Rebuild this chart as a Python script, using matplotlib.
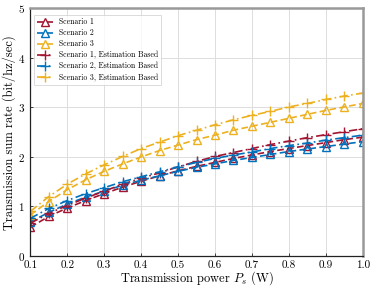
import matplotlib
matplotlib.use("Agg")
import matplotlib.pyplot as plt
import numpy as np

plt.rcParams['font.family'] = 'serif'
plt.rcParams['font.serif'] = ['cmr10', 'DejaVu Serif']
plt.rcParams['mathtext.fontset'] = 'cm'
plt.rcParams['axes.formatter.use_mathtext'] = True

power = [0.1, 0.15, 0.2, 0.25, 0.3, 0.35, 0.4, 0.45, 0.5, 0.55,
         0.6, 0.65, 0.7, 0.75, 0.8, 0.85, 0.9, 0.95, 1.0]

s1 = [0.58, 0.80, 0.97, 1.12, 1.26, 1.39, 1.51, 1.62, 1.72, 1.81,
      1.89, 1.97, 2.04, 2.11, 2.17, 2.23, 2.29, 2.35, 2.40]
s2 = [0.69, 0.88, 1.05, 1.19, 1.31, 1.43, 1.53, 1.62, 1.71, 1.79,
      1.86, 1.93, 1.99, 2.05, 2.11, 2.16, 2.21, 2.26, 2.31]
s3 = [0.83, 1.10, 1.34, 1.54, 1.71, 1.86, 2.00, 2.13, 2.24, 2.35,
      2.44, 2.54, 2.62, 2.70, 2.78, 2.86, 2.94, 3.01, 3.08]
e1 = [0.66, 0.86, 1.02, 1.17, 1.31, 1.45, 1.57, 1.68, 1.80, 1.91,
      2.01, 2.09, 2.17, 2.25, 2.32, 2.39, 2.45, 2.51, 2.57]
e2 = [0.76, 0.96, 1.12, 1.26, 1.38, 1.50, 1.60, 1.70, 1.80, 1.89,
      1.97, 2.04, 2.10, 2.17, 2.23, 2.28, 2.34, 2.39, 2.44]
e3 = [0.90, 1.20, 1.45, 1.66, 1.84, 2.01, 2.17, 2.30, 2.43, 2.54,
      2.65, 2.75, 2.84, 2.92, 3.01, 3.08, 3.16, 3.23, 3.29]

labels = ['Scenario 1', 'Scenario 2', 'Scenario 3',
          'Scenario 1, Estimation Based', 'Scenario 2, Estimation Based',
          'Scenario 3, Estimation Based']
red, blue, yellow = '#A2142F', '#0072BD', '#EDB120'

fig = plt.figure(figsize=(3.74, 2.88), dpi=100)
ax = fig.add_axes([0.081, 0.111, 0.889, 0.860])

for y, c, lab in zip([s1, s2, s3], [red, blue, yellow], labels[:3]):
    ax.plot(power, y, linestyle=(0, (4, 2)), color=c, lw=1.2, marker='^',
            markersize=6, markerfacecolor='none', markeredgewidth=1.0, label=lab)
for y, c, lab in zip([e1, e2, e3], [red, blue, yellow], labels[3:]):
    ax.plot(power, y, linestyle=(0, (5, 2, 1, 2)), color=c, lw=1.2, marker='+',
            markersize=7, markeredgewidth=1.0, label=lab)

ax.set_xlim(0.1, 1.0)
ax.set_ylim(0, 5)
ax.set_xticks(np.arange(0.1, 1.01, 0.1))
ax.set_xticklabels(['0.1', '0.2', '0.3', '0.4', '0.5', '0.6', '0.7', '0.8', '0.9', '1.0'])
ax.set_yticks([0, 1, 2, 3, 4, 5])
ax.tick_params(labelsize=8, direction='in', length=2, width=0.5)
ax.tick_params(axis='x', pad=3)
ax.tick_params(axis='y', pad=4)
ax.grid(True, color='#dddddd', lw=0.7)
ax.set_axisbelow(True)
for s in ['top', 'right']:
    ax.spines[s].set_color('#999999')
    ax.spines[s].set_linewidth(1.8)
for s in ['left', 'bottom']:
    ax.spines[s].set_color('#222222')
    ax.spines[s].set_linewidth(0.9)
ax.set_xlabel(r'Transmission power $P_s$ (W)', fontsize=9, labelpad=0)
ax.set_ylabel('Transmission sum rate (bit/hz/sec)', fontsize=9, labelpad=1)
leg = ax.legend(loc='upper left', fontsize=5.6, frameon=True, fancybox=False,
                edgecolor='#cccccc', handlelength=2.0, borderpad=0.4,
                labelspacing=0.35, bbox_to_anchor=(0.0, 0.99))
leg.get_frame().set_linewidth(0.6)
fig.savefig('out.png', dpi=100)
